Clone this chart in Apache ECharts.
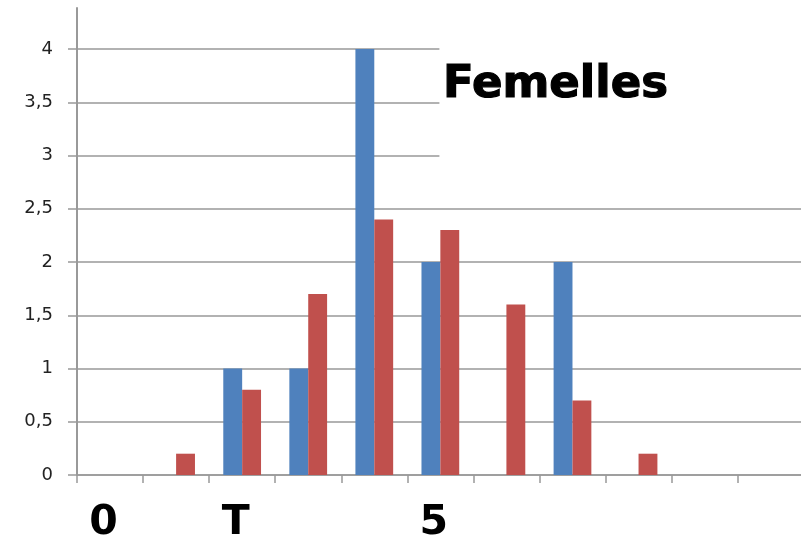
<!DOCTYPE html>
<html>
<head>
<meta charset="utf-8">
<script src="https://cdn.jsdelivr.net/npm/echarts@6/dist/echarts.min.js"></script>
<style>html,body{margin:0;padding:0;background:#fff}#c{width:801px;height:544px}</style>
</head>
<body>
<div id="c"></div>
<script>
const categories = ['c0','c1','c2','c3','c4','c5','c6','c7','c8','c9','c10'];
const xLabels = ['0','','T','','','5','','','','',''];
const blueValues = [0,0,1,1,4,2,0,2,0,0,0];
const redValues = [0,0.2,0.8,1.7,2.4,2.3,1.6,0.7,0.2,0,0];
const yTicks = [0,0.5,1,1.5,2,2.5,3,3.5,4];
const yMax = 4.385;
const titleText = 'Femelles';

const chart = echarts.init(document.getElementById('c'));
chart.setOption({
  animation: false,
  backgroundColor: '#ffffff',
  title: {
    text: titleText,
    left: 440,
    top: 22,
    padding: [41, 200, 78, 3],
    backgroundColor: '#ffffff',
    textStyle: {
      fontFamily: 'DejaVu Sans',
      fontWeight: 'bold',
      fontSize: 45,
      lineHeight: 45,
      color: '#000',
      textBorderColor: '#000',
      textBorderWidth: 1.2
    }
  },
  grid: { left: 77, top: 8, width: 726.7, height: 467, containLabel: false, outerBoundsMode: 'none' },
  xAxis: {
    type: 'category',
    data: categories,
    boundaryGap: true,
    axisLine: { lineStyle: { color: '#999999', width: 1.5 } },
    axisTick: { show: true, length: 8, alignWithLabel: false, interval: 0, lineStyle: { color: '#999999', width: 1.5 } },
    axisLabel: {
      interval: 0,
      margin: 28,
      padding: [0, 13, 0, 0],
      formatter: function (v, i) { return xLabels[i]; },
      fontFamily: 'DejaVu Sans',
      fontWeight: 'bold',
      fontSize: 41,
      lineHeight: 41,
      color: '#000'
    },
    splitLine: { show: false }
  },
  yAxis: {
    type: 'value',
    min: 0,
    max: yMax,
    axisLine: { show: true, lineStyle: { color: '#999999', width: 2 } },
    axisTick: { show: true, length: 9, inside: false, customValues: yTicks, lineStyle: { color: '#999999', width: 1.5 } },
    axisLabel: {
      customValues: yTicks,
      margin: 24,
      fontFamily: 'DejaVu Sans',
      fontSize: 18,
      color: '#222222',
      formatter: function (v) { return String(v).replace('.', ','); }
    },
    splitLine: { show: true, lineStyle: { color: '#999999', width: 1.5 } }
  },
  series: [
    {
      type: 'bar',
      data: blueValues,
      barGap: '0%',
      barCategoryGap: '42.86%',
      itemStyle: { color: '#4F81BD' }
    },
    {
      type: 'bar',
      data: redValues,
      barGap: '0%',
      barCategoryGap: '42.86%',
      itemStyle: { color: '#C0504D' }
    }
  ]
});
</script>
</body>
</html>
